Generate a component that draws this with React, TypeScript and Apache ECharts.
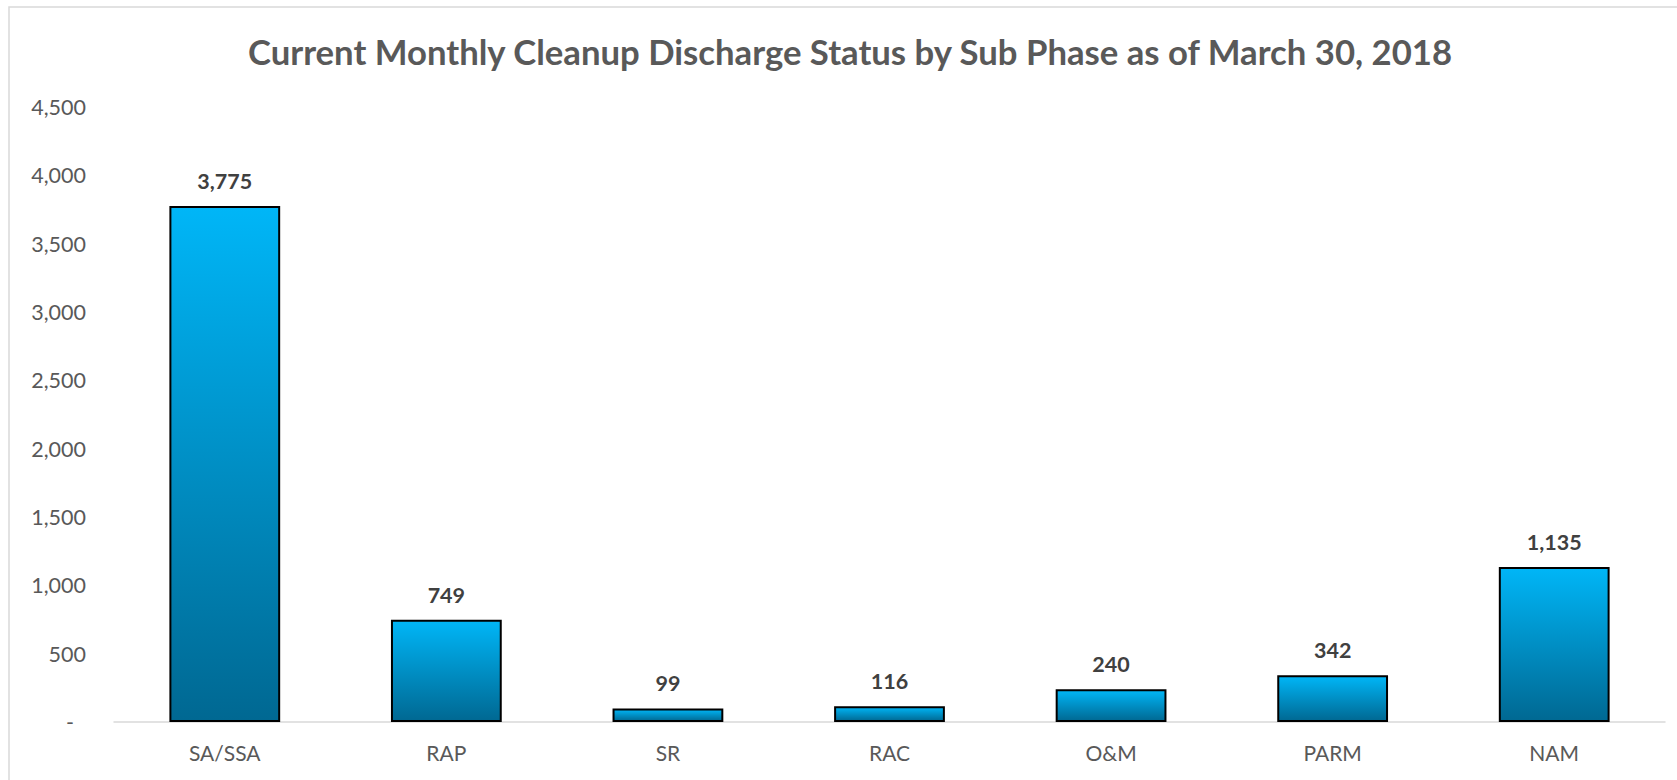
import React, { useEffect, useRef } from "react";
import * as echarts from "echarts";

const categories = ["SA/SSA", "RAP", "SR", "RAC", "O&M", "PARM", "NAM"];
const values = [3775, 749, 99, 116, 240, 342, 1135];
const yTicks = { min: 0, max: 4500, interval: 500 };
const titleText = "Current Monthly Cleanup Discharge Status by Sub Phase as of March 30, 2018";

const FONT = "Lato";

export default function App() {
  const ref = useRef<HTMLDivElement>(null);
  useEffect(() => {
    document.body.style.margin = "0";
    const chart = echarts.init(ref.current!, null, { renderer: "svg" });
    chart.setOption({
      animation: false,
      backgroundColor: "#ffffff",
      graphic: [
        {
          type: "rect",
          shape: { x: 9, y: 7, width: 1700, height: 800 },
          style: { fill: "none", stroke: "#d9d9d9", lineWidth: 1.5 },
          silent: true,
          z: 0,
        },
        {
          type: "text",
          x: 850,
          y: 51,
          style: {
            text: titleText,
            font: `bold 34.7px ${FONT}`,
            fill: "#595959",
            textAlign: "center",
            textVerticalAlign: "middle",
          },
        },
      ],
      grid: { left: 114, right: 12, top: 107, bottom: 58, containLabel: false },
      xAxis: {
        type: "category",
        data: categories,
        axisLine: { show: true, lineStyle: { color: "#d9d9d9", width: 1.5 } },
        axisTick: { show: false },
        axisLabel: { color: "#595959", fontFamily: FONT, fontSize: 21, margin: 20 },
      },
      yAxis: {
        type: "value",
        min: yTicks.min,
        max: yTicks.max,
        interval: yTicks.interval,
        axisLine: { show: false },
        axisTick: { show: false },
        splitLine: { show: false },
        axisLabel: {
          color: "#595959",
          fontFamily: FONT,
          fontSize: 21.5,
          margin: 28,
          formatter: (v: number) => (v === 0 ? "{d|-}" : v.toLocaleString("en-US")),
          rich: { d: { color: "#595959", fontFamily: FONT, fontSize: 21.5, padding: [0, 12, 0, 0] } },
        },
      },
      series: [
        {
          type: "bar",
          data: values,
          barWidth: "50%",
          itemStyle: {
            color: new echarts.graphic.LinearGradient(0, 0, 0, 1, [
              { offset: 0, color: "#00B6F7" },
              { offset: 1, color: "#006892" },
            ]),
            borderColor: "#000000",
            borderWidth: 2,
          },
          label: {
            show: true,
            position: "top",
            distance: 14,
            color: "#404040",
            fontFamily: FONT,
            fontWeight: "bold",
            fontSize: 21.5,
            formatter: (p: any) => Number(p.value).toLocaleString("en-US"),
          },
        },
      ],
    });
    return () => chart.dispose();
  }, []);
  return <div ref={ref} style={{ width: 1677, height: 780 }} />;
}
